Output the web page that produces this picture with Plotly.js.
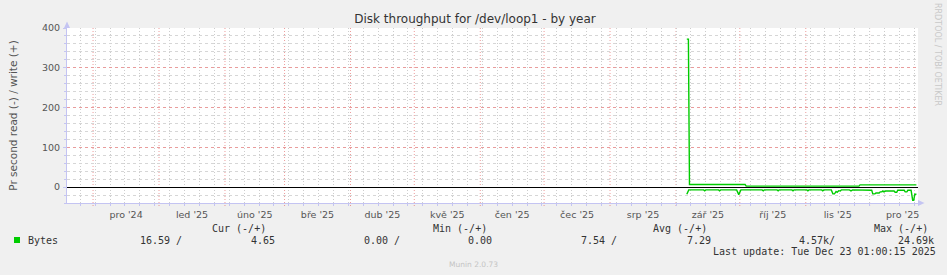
<!DOCTYPE html>
<html>
<head>
<meta charset="utf-8">
<script src="https://cdn.plot.ly/plotly-3.0.1.min.js"></script>
<style>
html,body{margin:0;padding:0;background:#f0f0f0;}
#chart{width:947px;height:275px;}
</style>
</head>
<body>
<div id="chart"></div>
<script>
// ---- data ----
const monthStarts = ['2024-12-01','2025-01-01','2025-02-01','2025-03-01','2025-04-01','2025-05-01','2025-06-01','2025-07-01','2025-08-01','2025-09-01','2025-10-01','2025-11-01','2025-12-01','2026-01-01'];
const monthLabels = ["pro '24","led '25","úno '25","bře '25","dub '25","kvě '25","čen '25","čec '25","srp '25","zář '25","říj '25","lis '25","pro '25"];

const writeDates = ['2025-09-06 02:00','2025-09-06 20:00','2025-09-07 08:00','2025-10-03 12:00','2025-10-04 00:00','2025-11-26 00:00','2025-11-26 12:00','2025-12-23 00:00'];
const writeValues = [372, 372, 6.5, 6.5, 2.5, 2.5, 5.5, 5.5];

const readDates = [
 '2025-09-06 02:00','2025-09-07 00:00','2025-09-14 00:00','2025-09-14 12:00','2025-09-15 00:00',
 '2025-09-21 00:00','2025-09-21 12:00','2025-09-22 00:00','2025-09-29 12:00','2025-09-30 12:00','2025-10-01 12:00',
 '2025-10-11 12:00','2025-10-12 00:00','2025-10-12 12:00','2025-10-18 12:00','2025-10-19 00:00','2025-10-19 12:00',
 '2025-10-25 12:00','2025-10-26 00:00','2025-10-26 12:00','2025-11-01 12:00','2025-11-02 00:00','2025-11-02 12:00',
 '2025-11-08 12:00','2025-11-09 00:00','2025-11-09 12:00','2025-11-13 00:00','2025-11-13 18:00','2025-11-14 12:00',
 '2025-11-15 06:00','2025-11-15 18:00','2025-11-16 12:00','2025-11-17 06:00','2025-11-17 18:00',
 '2025-11-21 12:00','2025-11-22 06:00','2025-11-23 00:00',
 '2025-12-01 12:00','2025-12-02 00:00','2025-12-02 12:00','2025-12-03 12:00','2025-12-04 00:00','2025-12-05 12:00',
 '2025-12-06 00:00','2025-12-06 18:00','2025-12-07 06:00','2025-12-07 18:00','2025-12-08 12:00','2025-12-12 12:00',
 '2025-12-13 00:00','2025-12-13 18:00','2025-12-14 06:00','2025-12-15 06:00','2025-12-16 00:00','2025-12-17 06:00',
 '2025-12-17 18:00','2025-12-18 12:00','2025-12-19 00:00','2025-12-20 12:00','2025-12-21 06:00','2025-12-21 18:00',
 '2025-12-22 06:00','2025-12-23 00:00'];
const readValues = [
 -18, -7, -7, -9.5, -7,
 -7, -9.5, -7, -7, -19, -7,
 -7, -9.5, -7, -7, -9.5, -7,
 -7, -9.5, -7, -7, -9.5, -7,
 -7, -9.5, -7, -7, -17, -17,
 -11, -13, -9, -10, -7,
 -7, -9.5, -7,
 -7, -8, -17, -17, -15, -15,
 -12, -12, -9.5, -12, -10, -10,
 -13, -13, -8, -7, -8, -8,
 -12, -12, -8, -8, -33, -33,
 -18, -18];

const yTicks = [0, 100, 200, 300, 400];
const headerTexts = ['Cur (-/+)','Min (-/+)','Avg (-/+)','Max (-/+)'];
const seriesName = 'Bytes';
const legendValues = ['16.59 /','4.65','0.00 /','0.00','7.54 /','7.29','4.57k/','24.69k'];
const lastUpdate = 'Last update: Tue Dec 23 01:00:15 2025';
const footer = 'Munin 2.0.73';
const watermark = 'RRDTOOL / TOBI OETIKER';

// ---- layout helpers (pixel -> paper) ----
const L = 67, R = 918, T = 28, B = 203;
const W = 947, H = 275;
const X = p => (p - L) / (R - L);
const Y = p => (B - p) / (B - T);

const midMonths = [];
for (let i = 0; i < monthLabels.length; i++) {
  const a = new Date(monthStarts[i] + 'T00:00:00Z').getTime();
  const b = new Date(monthStarts[i+1] + 'T00:00:00Z').getTime();
  midMonths.push(new Date((a + b) / 2).toISOString().replace('T',' ').slice(0,19));
}

const xRange = ['2024-11-18 18:00','2025-12-23 18:00'];
const yRange = [-40, 400];
const minorGrid = '#cdcdcd';
const minorGridH = '#d6d6d6';
const majorGrid = 'rgba(225,90,90,0.6)';
const majorGridH = '#e99c9c';
const axisCol = '#c4c4f2';
const mono = 'DejaVu Sans Mono';
const sans = 'DejaVu Sans';
const dots = '1px,2px';
const dotsH = 'dot';

const traces = [
  {x: writeDates, y: writeValues, type: 'scatter', mode: 'lines', line: {color: '#00cc00', width: 1.4}, hoverinfo: 'skip', showlegend: false},
  {x: readDates, y: readValues, type: 'scatter', mode: 'lines', line: {color: '#00cc00', width: 1.4}, hoverinfo: 'skip', showlegend: false}
];

const ann = [];
const mk = (text, px, py, opts) => Object.assign({
  text, x: X(px), y: Y(py), xref: 'paper', yref: 'paper', showarrow: false,
  xanchor: 'left', yanchor: 'middle', borderpad: 0,
  font: {family: mono, size: 10, color: '#333'}
}, opts || {});
const headerX = [211, 432, 652, 873];
headerTexts.forEach((t, i) => ann.push(mk(t, headerX[i], 228)));
ann.push(mk(seriesName, 27, 240));
const valX = [139, 250, 363, 467, 580, 686, 798, 897];
legendValues.forEach((t, i) => ann.push(mk(t, valX[i], 240)));
ann.push(mk(lastUpdate, 712, 251));
ann.push(mk(footer, 473, 264, {xanchor: 'center', font: {family: sans, size: 7.5, color: '#c4c4c4'}}));
ann.push(mk(watermark, 937, 55, {xanchor: 'center', yanchor: 'middle', textangle: 90, font: {family: sans, size: 8, color: '#c8c8c8'}}));

const shapes = [];
// month boundaries (major vertical grid, red dotted)
monthStarts.slice(0, 13).forEach(d => {
  shapes.push({type: 'line', xref: 'x', yref: 'paper', x0: d, x1: d, y0: Y(206), y1: 1, layer: 'below', line: {color: majorGrid, width: 1, dash: dots}});
});
shapes.push({type: 'rect', xref: 'paper', yref: 'paper', x0: X(14), x1: X(20), y0: Y(237), y1: Y(243), fillcolor: '#00cc00', line: {width: 0}});
shapes.push({type: 'path', xref: 'paper', yref: 'paper', path: `M ${X(64)} ${Y(28)} L ${X(70)} ${Y(28)} L ${X(67)} ${Y(21.5)} Z`, fillcolor: axisCol, line: {width: 0}});
shapes.push({type: 'path', xref: 'paper', yref: 'paper', path: `M ${X(918)} ${Y(200)} L ${X(918)} ${Y(206)} L ${X(924.5)} ${Y(203)} Z`, fillcolor: axisCol, line: {width: 0}});

const layout = {
  width: W, height: H,
  margin: {l: L, r: W - R, t: T, b: H - B, pad: 0},
  paper_bgcolor: '#f0f0f0', plot_bgcolor: '#ffffff',
  title: {text: 'Disk throughput for /dev/loop1 - by year', xref: 'container', yref: 'container', x: 475 / W, y: 1 - 19 / H, xanchor: 'center', yanchor: 'middle', font: {family: sans, size: 12, color: '#333'}},
  showlegend: false,
  xaxis: {
    type: 'date', range: xRange, tickmode: 'array', tickvals: midMonths, ticktext: monthLabels,
    showgrid: false, ticks: '', ticklabelstandoff: 3,
    tickfont: {family: sans, size: 9.5, color: '#555'},
    showline: true, linecolor: axisCol, linewidth: 1, zeroline: false, fixedrange: true,
    minor: {tick0: '2024-11-25', dtick: 7 * 86400000, showgrid: true, gridcolor: minorGrid, griddash: dots, gridwidth: 1, ticks: 'outside', ticklen: 2, tickcolor: axisCol}
  },
  yaxis: {
    range: yRange, tickmode: 'array', tickvals: yTicks,
    showgrid: true, gridcolor: majorGridH, griddash: dotsH, gridwidth: 1,
    ticks: 'outside', ticklen: 3, tickcolor: axisCol, ticklabelstandoff: 1,
    tickfont: {family: sans, size: 9.5, color: '#555'},
    showline: true, linecolor: axisCol, linewidth: 1,
    zeroline: true, zerolinecolor: '#000000', zerolinewidth: 1, fixedrange: true,
    minor: {tick0: 0, dtick: 20, showgrid: true, gridcolor: minorGridH, griddash: dotsH, gridwidth: 1, ticks: 'outside', ticklen: 2, tickcolor: axisCol},
    title: {text: 'Pr second read (-) / write (+)', standoff: 22, font: {family: sans, size: 10.5, color: '#555'}}
  },
  annotations: ann,
  shapes: shapes
};

Plotly.newPlot('chart', traces, layout, {displayModeBar: false, staticPlot: true});
</script>
</body>
</html>
